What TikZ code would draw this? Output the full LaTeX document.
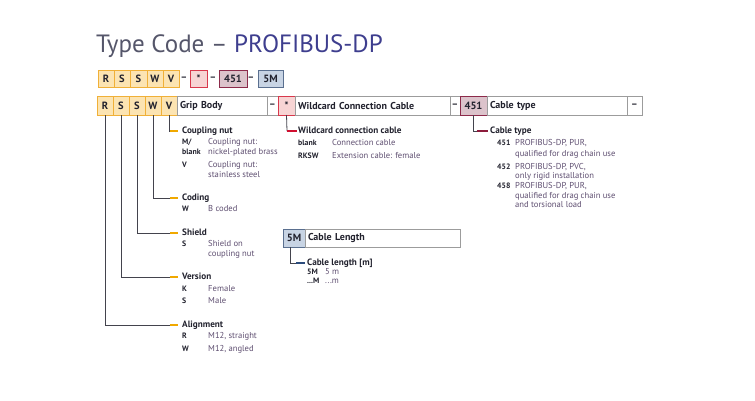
\documentclass[tikz,border=0pt]{standalone}
\usepackage{fontspec}
\setmainfont{PT Sans}
\definecolor{orL}{HTML}{FCE4B2}
\definecolor{orD}{HTML}{F0B038}
\definecolor{orM}{HTML}{F0A800}
\definecolor{redL}{HTML}{F7D4D4}
\definecolor{redD}{HTML}{D8384C}
\definecolor{redM}{HTML}{D01030}
\definecolor{marL}{HTML}{DCC3CB}
\definecolor{marD}{HTML}{8C2A4A}
\definecolor{marM}{HTML}{8C1C3C}
\definecolor{bluL}{HTML}{C8D4E4}
\definecolor{bluD}{HTML}{5A6F8F}
\definecolor{bluM}{HTML}{2C4C7C}
\definecolor{gbord}{HTML}{9C9C9C}
\definecolor{txt}{HTML}{22222E}
\definecolor{valc}{HTML}{5E4E70}
\definecolor{ttlA}{HTML}{55566A}
\definecolor{ttlB}{HTML}{3E3E8E}
\begin{document}
\begin{tikzpicture}[x=1pt,y=-1pt,
  cellbase/.style={anchor=north west,inner sep=0pt,outer sep=0pt,line width=0.8pt,
    font=\fontsize{10.5}{12}\selectfont\bfseries,text=txt},
  ocell/.style={cellbase,draw=orD,fill=orL},
  rcell/.style={cellbase,draw=redD,fill=redL},
  mcell/.style={cellbase,draw=marD,fill=marL},
  bcell/.style={cellbase,draw=bluD,fill=bluL},
  gcell/.style={cellbase,draw=gbord,fill=white,font=\fontsize{10}{12}\selectfont\bfseries},
  tcell/.style={gcell,align=left,inner xsep=3pt},
  dashtxt/.style={inner sep=0pt,font=\fontsize{10}{12}\selectfont\bfseries,text=txt},
  hd/.style={anchor=west,inner sep=0pt,text height=6.5pt,text depth=2pt,
    font=\fontsize{9.2}{10}\selectfont\bfseries,text=txt},
  key/.style={anchor=west,inner sep=0pt,text height=5.5pt,text depth=1.8pt,
    font=\fontsize{7.8}{9}\selectfont\bfseries,text=txt},
  val/.style={anchor=west,inner sep=0pt,text height=5.5pt,text depth=1.8pt,
    font=\fontsize{8.6}{9}\selectfont,text=valc},
  conn/.style={draw=txt!85,line width=0.8pt},
  odash/.style={draw=orM,line width=2.6pt},
  rdash/.style={draw=redM,line width=2.6pt},
  mdash/.style={draw=marM,line width=2.6pt},
  bdash/.style={draw=bluM,line width=2.6pt}
]
\useasboundingbox (0,0) rectangle (755,400);

% Title
\node[anchor=base west,inner sep=0pt,font=\fontsize{25}{30}\selectfont] (title) at (96,52)
  {\textcolor{ttlA}{Type Code – }\textcolor{ttlB}{PROFIBUS-DP}};

% Top row
\node[ocell,minimum width=16,minimum height=17] (t1) at (98,70) {R};
\node[ocell,minimum width=16,minimum height=17] (t2) at (114,70) {S};
\node[ocell,minimum width=17,minimum height=17] (t3) at (130,70) {S};
\node[ocell,minimum width=16,minimum height=17] (t4) at (147,70) {W};
\node[ocell,minimum width=16,minimum height=17] (t5) at (163,70) {V};
\node[dashtxt] (td1) at (184,78.5) {–};
\node[rcell,minimum width=17,minimum height=17] (t6) at (190,70) {*};
\node[dashtxt] (td2) at (213,78.5) {–};
\node[mcell,minimum width=28,minimum height=17] (t7) at (219,70) {451};
\node[dashtxt] (td3) at (251,78.5) {–};
\node[bcell,minimum width=25,minimum height=17] (t8) at (258,70) {5M};

% Second row
\node[gcell,minimum width=545,minimum height=19] (frame) at (97,96) {};
\node[ocell,minimum width=16,minimum height=19] (r2) at (97,96) {R};
\node[ocell,minimum width=16,minimum height=19] (s2) at (113,96) {S};
\node[ocell,minimum width=16,minimum height=19] (sb2) at (129,96) {S};
\node[ocell,minimum width=16,minimum height=19] (w2) at (145,96) {W};
\node[ocell,minimum width=16,minimum height=19] (v2) at (161,96) {V};
\node[tcell,text width=84,minimum height=19] (grip) at (177,96) {Grip Body};
\node[gcell,minimum width=11,minimum height=19] (gd1) at (267,96) {–};
\node[rcell,minimum width=17,minimum height=19] (ast) at (278,96) {*};
\node[tcell,text width=149,minimum height=19] (wild) at (295,96) {Wildcard Connection Cable};
\node[gcell,minimum width=10,minimum height=19] (gd2) at (450,96) {–};
\node[mcell,minimum width=27,minimum height=19] (c451) at (460,96) {451};
\node[tcell,text width=134,minimum height=19] (ctype) at (487,96) {Cable type};
\node[gcell,minimum width=15,minimum height=19] (gd3) at (627,96) {–};

% Orange group
\coordinate (oa) at (170,131);
\coordinate (ob) at (170,198);
\coordinate (oc) at (170,233);
\coordinate (od) at (170,277);
\coordinate (oe) at (170,325);
\draw[conn] (v2.south) |- (oa);
\draw[conn] (w2.south) |- (ob);
\draw[conn] (sb2.south) |- (oc);
\draw[conn] (s2.south) |- (od);
\draw[conn] (r2.south) |- (oe);
\foreach \c in {oa,ob,oc,od,oe} \draw[odash] (\c) -- ++(8,0);

\node[hd] (hCoup) at (182,131) {Coupling nut};
\node[key] (kM) at (182,143) {M/};
\node[key] (kBl) at (182,153) {blank};
\node[key] (kV) at (182,166) {V};
\node[val] (vM1) at (208,143) {Coupling nut:};
\node[val] (vM2) at (208,153) {nickel-plated brass};
\node[val] (vV1) at (208,166) {Coupling nut:};
\node[val] (vV2) at (208,176) {stainless steel};

\node[hd] (hCod) at (182,198) {Coding};
\node[key] (kW) at (182,210) {W};
\node[val] (vW) at (208,210) {B coded};

\node[hd] (hShi) at (182,233) {Shield};
\node[key] (kS) at (182,245) {S};
\node[val] (vS1) at (208,245) {Shield on};
\node[val] (vS2) at (208,255) {coupling nut};

\node[hd] (hVer) at (182,277) {Version};
\node[key] (kK) at (182,290) {K};
\node[val] (vK) at (208,290) {Female};
\node[key] (kS2) at (182,302) {S};
\node[val] (vS3) at (208,302) {Male};

\node[hd] (hAli) at (182,325) {Alignment};
\node[key] (kR) at (182,337) {R};
\node[val] (vR) at (208,337) {M12, straight};
\node[key] (kW2) at (182,350) {W};
\node[val] (vW2) at (208,350) {M12, angled};

% Red group
\coordinate (ra) at (287,131);
\draw[conn] (ast.south) -- (ra);
\draw[rdash] (ra) -- ++(10,0);
\node[hd] (hWild) at (298,131) {Wildcard connection cable};
\node[key] (kbl2) at (298,144) {blank};
\node[val] (vbl2) at (332,144) {Connection cable};
\node[key] (kRK) at (298,157) {RKSW};
\node[val] (vRK) at (332,157) {Extension cable: female};

% Maroon group
\draw[conn] (c451.south) |- ++(0,16) -- ++(3,0) coordinate (mb);
\draw[mdash] (mb) -- ++(11,0);
\node[hd] (hCab) at (490,131) {Cable type};
\node[key] (k451) at (497,144) {451};
\node[val] (v451a) at (515,144) {PROFIBUS-DP, PUR,};
\node[val] (v451b) at (515,155) {qualified for drag chain use};
\node[key] (k452) at (497,168) {452};
\node[val] (v452a) at (515,168) {PROFIBUS-DP, PVC,};
\node[val] (v452b) at (515,177) {only rigid installation};
\node[key] (k458) at (497,187) {458};
\node[val] (v458a) at (515,187) {PROFIBUS-DP, PUR,};
\node[val] (v458b) at (515,197) {qualified for drag chain use};
\node[val] (v458c) at (515,206) {and torsional load};

% Cable length
\node[gcell,minimum width=177,minimum height=18] (lenframe) at (283,229) {};
\node[bcell,minimum width=22,minimum height=18] (m5) at (283,229) {5M};
\node[tcell,text width=149,minimum height=18] (lenl) at (305,229) {Cable Length};
\coordinate (ba) at (290,263);
\draw[conn] ([xshift=-4pt]m5.south) |- (ba) -- ++(6,0) coordinate (bb);
\draw[bdash] (bb) -- ++(9,0);
\node[hd] (hLen) at (307,263) {Cable length [m]};
\node[key] (k5M) at (307,273) {5M};
\node[val] (v5M) at (325,273) {5 m};
\node[key] (kdM) at (307,282) {...M};
\node[val] (vdM) at (325,282) {...m};
\end{tikzpicture}
\end{document}
